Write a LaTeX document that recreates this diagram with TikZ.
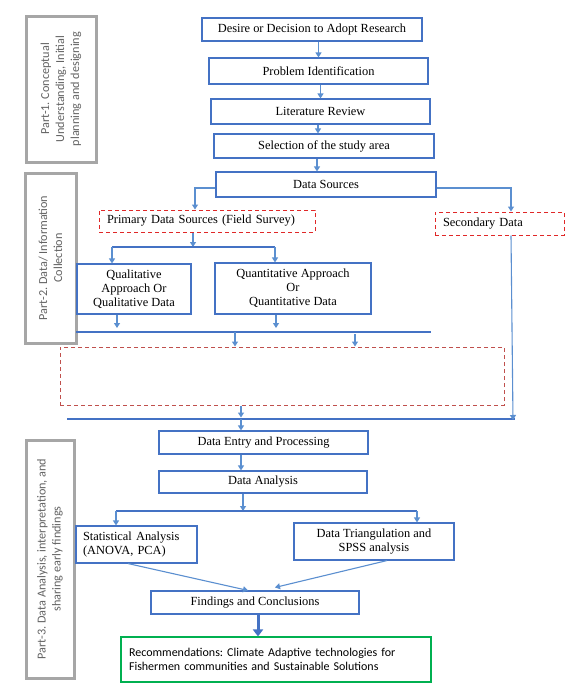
\documentclass[tikz,border=0pt]{standalone}
\usepackage{fontspec}
\setmainfont{Liberation Serif}
\newfontfamily\calib{Carlito}
\usetikzlibrary{arrows.meta,calc}
\frenchspacing
\definecolor{bx}{HTML}{4472C4}
\definecolor{ar}{HTML}{5B8FD0}
\definecolor{rd}{HTML}{E02828}
\definecolor{br}{HTML}{C0504D}
\definecolor{gr}{HTML}{00B050}
\definecolor{pg}{HTML}{A6A6A6}
\definecolor{ptx}{HTML}{636363}
\tikzset{
  wh/.style 2 args={minimum width=#1, minimum height=#2},
  box/.style={draw=bx, line width=1.1pt, rectangle, inner sep=0pt, align=center,
    font=\fontsize{12.4}{14}\selectfont},
  dbox/.style={draw=rd, dashed, dash pattern=on 4pt off 3pt, line width=1pt, rectangle, inner sep=0pt,
    font=\fontsize{12.4}{14}\selectfont},
  partbox/.style={draw=pg, line width=3pt, rectangle, inner sep=0pt, align=center, rotate=90,
    text=ptx, font=\calib\fontsize{12.2}{15}\selectfont},
  arr/.style={draw=ar, line width=1.1pt, -{Triangle[width=6pt,length=5pt]}},
  arrthick/.style={draw=bx, line width=3pt, -{Triangle[width=10pt,length=7pt]}},
  ln/.style={draw=bx, line width=1.1pt},
}
\begin{document}
\begin{tikzpicture}[x=1pt, y={(0pt,-1pt)}]
\useasboundingbox (0,0) rectangle (580,696);
\fill[white] (0,0) rectangle (580,696);

% part boxes
\node[partbox, wh={146}{70}] (p1) at (61,89) {Part-1. Conceptual\\Understanding, Initial\\planning and designing};
\node[partbox, wh={170}{51}] (p2) at (50.5,258) {Part-2. Data/ Information\\Collection};
\node[partbox, wh={238}{48}] (p3) at (50,559) {Part-3. Data Analysis, interpretation, and\\sharing early findings};

% main boxes
\node[box, wh={220}{23}] (desire) at (312,29.5) {Desire or Decision to Adopt Research};
\node[box, wh={219}{26}] (problem) at (318.5,71) {Problem Identification};
\node[box, wh={219}{25}] (lit) at (320.5,111.5) {Literature Review};
\node[box, wh={220}{24}] (sel) at (324,146) {Selection of the study area};
\node[box, wh={220}{25}] (ds) at (326,184.5) {Data Sources};
\node[dbox, wh={216}{22}, text width=200pt, inner xsep=8pt, align=left] (prim) at (207,221) {Primary Data Sources (Field Survey)};
\node[dbox, wh={129}{23}, text width=113pt, inner xsep=8pt, align=left] (sec) at (499.5,223.5) {Secondary Data};
\node[box, wh={114}{50}] (qual) at (134,289) {Qualitative\\Approach Or\\Qualitative Data};
\node[box, wh={156}{51}] (quant) at (293,288.5) {Quantitative Approach\\Or\\Quantitative Data};
\node[draw=br, dashed, dash pattern=on 4pt off 3pt, line width=1pt, rectangle, inner sep=0pt, wh={444}{58}] (mid) at (282,376) {};
\node[box, wh={209}{23}] (de) at (263.5,442.5) {Data Entry and Processing};
\node[box, wh={208}{22}] (da) at (263,482) {Data Analysis};
\node[box, wh={121}{37}, text width=107pt, inner xsep=7pt, align=left] (stat) at (136.5,544.5) {Statistical Analysis\\(ANOVA, PCA)};
\node[box, wh={160}{37}] (tri) at (374,541.5) {Data Triangulation and\\SPSS analysis};
\node[box, wh={208}{23}] (find) at (255,602.5) {Findings and Conclusions};
\node[draw=gr, line width=1.1pt, rectangle, inner sep=0pt, wh={310}{45}, text width=294pt, inner xsep=8pt, align=left,
  font=\calib\fontsize{12}{14.5}\selectfont] (rec) at (276,659.5) {Recommendations: Climate Adaptive technologies for\\Fishermen communities and Sustainable Solutions};

% top chain
\draw[arr] (problem.north |- desire.south) -- (problem.north);
\draw[arr] (lit.north |- problem.south) -- (lit.north);
\draw[arr] ([xshift=-6pt]sel.north |- lit.south) -- ([xshift=-6pt]sel.north);
\draw[arr] ([xshift=-9pt]ds.north |- sel.south) -- ([xshift=-9pt]ds.north);

% data sources branches
\draw[arr] ([yshift=-3.5pt]ds.west) -| ([xshift=-12pt]prim.north);
\draw[arr] ([yshift=-3.5pt]ds.east) -| ([xshift=11.5pt]sec.north);

% primary split
\coordinate (s1) at (193,247);
\coordinate (s1l) at (112,247);
\coordinate (s1r) at (275,247);
\draw[arr] (s1 |- prim.south) -- (s1);
\draw[ln] (s1l) -- (s1r);
\draw[arr] (s1l) -- (s1l |- qual.north);
\draw[arr] (s1r) -- (s1r |- quant.north);

% line 2
\coordinate (l2a) at (76,332);
\coordinate (l2b) at (431,332);
\draw[ln] (l2a) -- (l2b);
\draw[arr] ([xshift=-17pt]qual.south) -- ([xshift=-17pt,yshift=4pt]qual.south |- l2a);
\draw[arr] ([xshift=-17pt]quant.south) -- ([xshift=-17pt,yshift=4pt]quant.south |- l2a);
\coordinate (m1) at (235,332);
\coordinate (m2) at (355,334);
\draw[arr] (m1) -- (m1 |- mid.north);
\draw[arr] (m2) -- (m2 |- mid.north);

% line 3
\coordinate (l3a) at (67,419);
\coordinate (l3b) at (515,419);
\coordinate (l3m) at (241,419);
\draw[ln] (l3a) -- (l3b);
\draw[arr] (l3m |- mid.south) -- ([yshift=1.5pt]l3m);
\coordinate (secend) at (513,420);
\draw[arr] ([xshift=11.5pt]sec.south) -- (secend);
\draw[arr] (l3m) -- (l3m |- de.north);
\draw[arr] (l3m |- de.south) -- (l3m |- da.north);

% line 4
\coordinate (l4a) at (116,511);
\coordinate (l4b) at (417,511);
\coordinate (l4m) at (243,511);
\draw[arr] (l4m |- da.south) -- (l4m);
\draw[ln] (l4a) -- (l4b);
\draw[arr] (l4a) -- (l4a |- stat.north);
\draw[arr] (l4b) -- (l4b |- tri.north);

% to findings
\draw[arr] ([xshift=-8.5pt]stat.south) -- ([xshift=-7pt]find.north);
\draw[arr] ([xshift=13pt]tri.south) -- ([xshift=20pt,yshift=3pt]find.north);
\draw[arrthick] ([xshift=3pt]find.south) -- ([xshift=3pt]find.south |- rec.north);
\end{tikzpicture}
\end{document}
